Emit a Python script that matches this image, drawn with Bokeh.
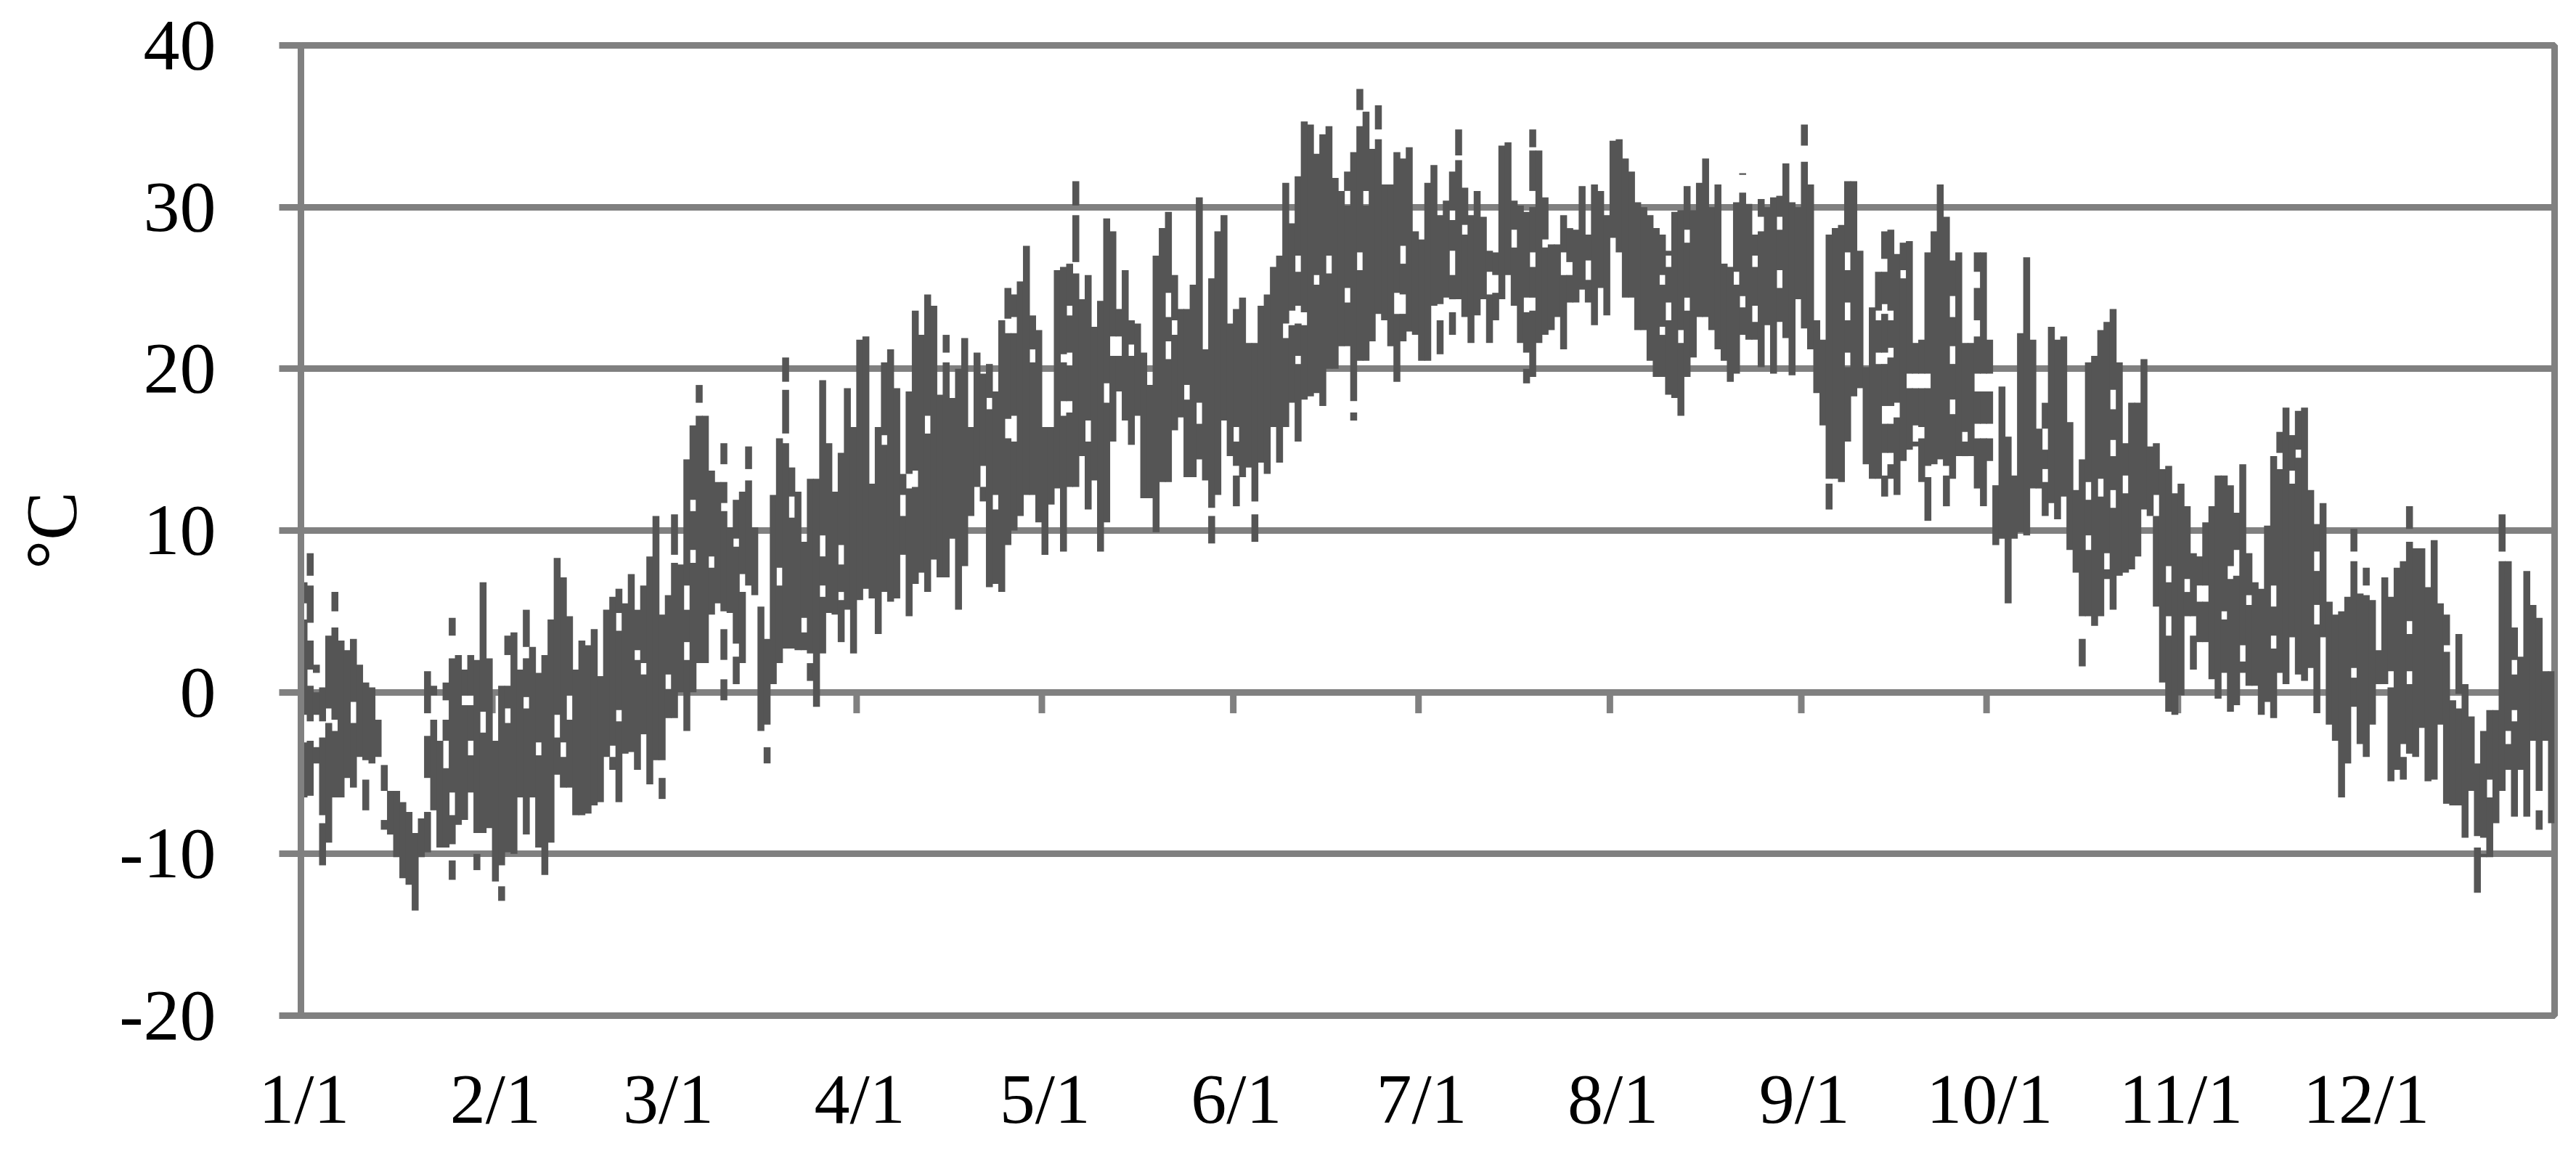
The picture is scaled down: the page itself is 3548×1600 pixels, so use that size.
from bokeh.plotting import figure
from bokeh.models import ColumnDataSource, FixedTicker, Range1d
from bokeh.embed import file_html
from bokeh.resources import INLINE

# Daily highest reading, deg C
hi_jan = [6.8,8.6,1.7,0.3,3.5,6.2,3.2,2.6,3.3,1.7,0.6,0.3,-1.7,-4.5,-6.1,-6.1,-6.8,-7.4,-8.7,-7.8,1.3,0.4,-3.0,0.6,4.6,2.3,1.4,2.3,2.0,6.8,2.1]
hi_feb = [-3.0,0.4,3.5,3.7,1.4,5.1,2.8,1.2,2.3,4.5,8.3,7.1,4.7,1.4,3.2,2.9,3.9,1.0,5.1,5.9,6.4,5.5,7.3,5.1,6.6,8.4,10.9,4.8]
hi_mar = [6.0,11.0,7.9,14.4,16.5,19.0,17.1,13.7,13.0,15.4,10.2,11.9,12.4,15.2,10.2,5.3,3.3,12.2,15.7,20.7,13.9,12.4,9.3,13.2,13.2,19.3,15.4,12.4,14.8,18.8,16.4]
hi_apr = [21.8,22.0,12.9,16.4,20.4,21.2,18.8,13.5,18.6,23.6,22.1,24.6,23.9,18.4,22.1,18.2,20.0,21.9,16.4,21.0,19.7,20.3,18.6,23.0,25.0,24.6,25.4,27.6,23.3,22.4]
hi_may = [16.4,16.4,26.1,26.3,26.5,31.6,24.3,25.8,22.6,24.2,29.3,28.5,23.7,26.1,23.0,22.8,21.0,19.0,27.0,28.7,29.7,25.8,23.7,23.7,25.2,30.6,21.2,25.6,28.5,29.5,22.8]
hi_jun = [23.7,24.4,21.6,21.6,23.9,24.6,26.3,27.0,31.5,29.0,31.9,35.3,35.1,33.3,34.5,35.0,31.8,31.0,32.2,33.4,37.3,35.9,33.6,36.3,31.4,31.4,33.4,33.0,33.7,28.5]
hi_jul = [28.0,31.5,32.6,29.5,30.4,32.2,34.8,31.2,29.5,31.0,29.4,27.3,27.2,33.8,34.0,30.4,30.1,29.7,34.8,33.5,30.6,27.7,27.7,29.5,28.7,28.6,31.3,28.3,31.4,31.0,29.5]
hi_aug = [34.1,34.2,33.0,32.2,30.3,30.0,29.5,28.7,28.3,27.3,29.7,29.8,31.3,29.8,31.5,33.0,30.0,31.4,26.5,26.3,30.3,32.1,30.2,28.3,30.5,30.0,30.6,30.7,32.7,30.3,30.0]
hi_sep = [35.1,31.4,23.0,21.8,28.3,28.7,28.9,31.6,31.6,27.3,20.1,23.8,26.0,28.5,28.6,27.1,27.8,27.9,21.6,21.8,27.2,28.5,31.4,29.4,26.7,27.2,21.6,21.6,27.2,27.2]
hi_oct = [21.8,12.8,18.9,15.8,13.4,22.2,26.9,21.8,16.3,17.9,22.6,21.8,22.0,16.7,12.5,14.4,20.4,20.8,22.4,22.9,23.7,20.4,15.4,17.9,17.9,20.6,15.2,15.4,13.8,14.0,12.3]
hi_nov = [12.9,11.5,8.6,8.4,10.5,11.5,13.4,13.4,12.8,11.1,14.1,8.6,6.8,6.4,10.3,14.6,16.1,17.6,15.9,17.4,17.6,12.5,10.4,11.7,5.6,4.8,5.0,5.9,10.1,6.1]
hi_dec = [7.7,5.7,2.6,7.1,5.9,7.7,8.1,11.5,8.9,8.9,6.5,9.4,5.5,4.8,-0.5,3.6,0.5,-1.5,-4.4,-2.4,-1.1,-1.1,11.0,8.1,4.0,2.2,7.5,5.4,4.6,1.3,1.3]

# Daily lowest reading, deg C
lo_jan = [-6.5,-6.4,-4.4,-10.7,-9.3,-6.5,-6.5,-5.3,-5.9,-4.0,-7.3,-4.4,-4.0,-8.5,-8.8,-10.2,-11.5,-11.9,-13.5,-10.2,-9.9,-7.3,-9.6,-9.6,-11.6,-8.2,-7.9,-6.2,-11.0,-8.7,-8.4]
lo_feb = [-11.7,-12.9,-9.9,-10.0,-6.5,-8.8,-6.5,-9.6,-11.3,-9.3,-5.1,-5.9,-5.9,-7.6,-7.6,-7.5,-7.0,-6.8,-4.0,-4.8,-6.8,-3.8,-3.7,-4.8,-2.6,-5.7,-4.2,-6.6]
lo_mar = [-1.6,-1.6,0.0,-2.4,0.0,1.8,1.8,4.8,5.5,-0.5,4.9,0.5,1.8,6.6,6.0,-2.4,-4.4,0.5,1.8,2.7,2.7,2.6,2.6,0.7,-0.9,2.4,4.9,4.8,3.1,5.1,2.4]
lo_apr = [5.7,6.4,5.8,3.6,6.2,5.6,5.8,8.5,4.7,6.7,7.4,6.2,8.2,7.1,7.1,9.5,5.1,7.8,10.9,12.7,11.8,6.5,6.7,6.2,9.1,10.0,10.9,12.2,12.2,10.5]
lo_may = [8.5,11.6,12.6,8.7,12.7,12.7,14.6,11.3,13.1,8.7,10.5,15.5,18.6,16.8,15.3,17.1,12.0,12.0,9.9,13.0,13.0,16.2,17.0,13.3,13.3,14.4,13.1,9.2,12.2,16.8,14.6]
lo_jun = [11.5,13.3,13.9,9.3,14.2,13.5,16.4,14.2,16.4,17.9,15.5,18.1,18.3,18.5,17.7,20.0,20.0,21.4,21.4,16.8,20.5,20.5,21.7,23.4,23.0,21.4,19.2,21.7,22.3,22.1]
lo_jul = [20.5,20.5,23.9,20.9,24.4,22.1,24.3,23.2,21.6,23.3,24.3,21.6,23.0,24.3,25.8,23.9,21.6,19.1,19.5,21.6,22.1,22.4,23.2,21.2,24.1,24.1,24.9,24.1,22.7,25.0,23.3]
lo_aug = [28.1,27.2,24.4,24.4,22.4,22.4,20.5,19.5,19.5,18.4,18.2,17.1,19.5,20.7,23.2,23.2,22.4,21.2,20.5,19.2,19.7,22.1,21.8,21.8,20.1,22.7,19.7,22.9,21.9,19.6,24.3]
lo_sep = [22.5,21.2,18.5,16.5,11.3,13.2,13.0,15.5,18.3,18.8,14.1,13.2,13.2,12.1,13.2,12.2,14.3,15.0,15.2,13.0,10.6,14.1,14.4,11.5,13.2,14.6,14.6,14.6,12.6,11.5]
lo_oct = [14.3,9.1,9.5,5.5,9.5,9.9,9.7,12.6,12.6,10.9,11.7,10.7,12.1,8.8,7.4,1.6,4.7,4.1,4.7,7.0,5.1,7.2,7.4,7.6,8.4,11.3,10.9,5.3,0.6,-1.2,-1.4]
lo_nov = [-0.2,4.7,1.4,3.1,3.1,0.8,-0.4,1.2,-1.2,-0.8,1.2,0.4,0.4,-1.4,-0.6,-1.6,1.2,0.5,3.4,1.1,0.7,1.5,-1.3,3.4,-2.0,-3.0,-6.5,-4.4,-0.9,-3.2]
lo_dec = [-4.0,-2.0,0.5,0.5,-5.5,-4.8,-5.4,-3.8,-4.0,-2.2,-5.5,-5.4,-2.0,-6.9,-7.0,-7.0,-9.0,-6.1,-12.4,-10.2,-10.2,-8.1,-6.1,-4.8,-7.7,-4.8,-7.7,-3.0,-8.5,-3.0,-8.1]

# White holes inside a day's range: day index, upper and lower value
gap_day = [0,0,1,1,1,1,2,2,3,3,4,5,5,8,10,13,20,20,21,22,23,23,24,24,24,26,27,27,28,29,32,33,33,36,36,38,41,42,43,
           50,51,51,54,55,58,59,60,62,62,63,63,64,66,68,68,68,68,70,70,71,72,75,77,78,78,79,81,82,84,84,87,87,
           94,99,101,104,105,110,111,112,115,115,118,124,124,124,125,125,127,130,131,134,
           140,140,141,143,145,147,149,151,151,154,159,161,161,161,166,169,170,171,171,172,174,178,
           184,186,186,187,188,192,196,198,199,199,199,201,205,208,220,220,221,221,223,224,224,
           232,233,233,235,235,236,239,239,239,243,247,250,250,250,256,257,257,257,259,263,266,267,267,267,269,
           271,271,282,282,288,289,289,291,292,293,293,293,295,300,302,302,305,306,312,313,314,319,319,320,
           322,323,326,326,332,332,334,338,340,341,341,341,347,349,352,353,354,356,357,358,358,362,
           255,256,255,256,257,256,257,258,256,257,260,261,262,263,261,262,271,272,273,271,272,273,
           114,114,98,97,132,123,123,164,160,162,169,177,178,307,308,311,315,198,199,204,193,192,186]
gap_hi = [5.5,-1.4,7.2,4.3,1.4,-1.8,1.2,-1.4,-1.8,-7.6,-1.0,5.0,-1.7,-0.6,-4.2,-6.1,-1.3,-5.3,-0.2,-0.3,-0.5,-3.0,3.5,-6.2,-9.4,-0.2,-0.2,-3.0,-8.7,-1.2,-10.7,-1.0,2.3,2.8,-0.3,-3.1,-1.4,-3.1,-0.2,
          -3.3,4.9,-1.1,2.6,1.8,-4.2,1.1,8.5,6.6,3.1,11.9,8.8,17.9,8.4,14.1,11.7,5.0,2.0,9.5,3.0,7.3,13.8,-2.0,7.7,19.2,16.0,12.1,4.6,2.4,9.7,6.6,9.1,6.2,
          15.9,13.7,17.1,21.0,19.7,14.0,18.2,12.2,23.2,17.1,21.2,23.9,21.0,18.0,30.1,26.6,16.8,19.1,22.0,21.5,
          24.7,21.7,23.0,19.0,17.9,11.4,17.3,16.4,14.0,11.8,22.8,27.0,23.9,20.8,27.0,31.0,18.0,36.0,27.2,31.0,34.8,27.6,
          24.0,29.8,24.3,33.2,28.9,26.0,28.6,21.0,33.7,31.0,27.2,28.0,26.6,26.7,25.8,22.6,27.0,24.1,22.4,28.6,24.4,
          26.0,32.0,24.5,27.0,23.9,29.4,29.4,26.1,22.0,33.8,13.2,27.2,24.1,21.0,26.8,23.6,17.6,14.8,26.1,14.0,14.0,24.5,21.4,18.1,16.1,
          26.0,23.0,16.3,13.8,4.7,13.0,9.7,13.2,8.6,18.7,15.6,12.5,13.4,12.2,7.8,4.7,7.0,4.7,7.8,8.8,2.9,6.6,3.5,14.8,
          13.7,15.0,8.7,5.4,8.7,1.5,6.6,1.3,-3.2,10.1,4.4,1.3,2.9,-0.1,-8.9,-9.0,-5.4,8.7,-2.4,2.0,-1.1,-6.1,
          23.6,24.0,21.0,21.0,21.3,17.7,17.7,17.9,14.8,14.8,19.7,19.7,19.7,19.7,16.5,16.4,19.7,19.7,19.7,16.6,16.6,16.6,
          23.1,16.9,13.5,12.2,22.0,20.9,18.0,25.8,23.6,23.5,25.0,24.7,24.6,6.6,6.6,5.0,6.0,24.4,24.4,27.2,25.8,25.8,27.3]
gap_lo = [4.5,-3.1,6.6,3.2,0.4,-3.0,0.0,-3.4,-2.8,-8.1,-1.9,4.0,-2.4,-1.9,-5.4,-7.9,-2.7,-7.4,-1.7,-2.0,-1.7,-4.7,2.1,-7.6,-10.4,-0.8,-0.8,-3.9,-10.0,-2.5,-12.0,-1.9,0.4,2.1,-1.0,-3.9,-2.8,-4.0,-1.7,
          -4.0,3.8,-1.8,2.0,1.1,-5.3,0.2,8.0,5.1,2.0,11.2,8.0,17.1,7.7,13.0,11.2,3.9,0.8,9.0,2.2,6.2,13.1,-3.4,6.6,18.7,15.4,10.8,3.7,1.8,8.4,5.9,7.9,5.7,
          15.3,12.7,16.0,20.4,18.0,12.7,17.5,11.3,22.2,15.5,20.4,23.3,20.2,17.3,29.5,25.9,15.5,17.9,20.8,20.8,
          23.2,20.6,22.1,18.1,16.6,10.9,16.2,15.5,13.4,11.0,21.9,26.0,22.8,20.3,25.9,30.1,17.3,35.0,26.1,30.1,34.2,26.5,
          23.0,29.2,23.5,32.9,28.3,24.6,27.5,20.0,33.5,30.0,26.3,27.5,25.8,25.5,25.2,22.1,26.3,23.0,21.6,27.8,23.6,
          25.2,30.9,23.8,26.3,22.9,28.5,28.6,25.0,21.2,32.8,12.9,26.1,23.0,20.1,26.0,23.0,16.6,14.1,25.6,13.3,13.4,23.2,20.3,17.2,15.5,
          25.0,22.0,15.0,13.0,3.3,11.9,8.8,12.1,7.6,17.5,14.6,11.4,12.3,10.9,6.8,3.5,6.2,3.5,7.0,7.2,1.9,5.3,2.7,13.8,
          12.9,14.5,7.5,4.2,8.1,0.9,6.0,0.3,-4.0,9.3,3.6,0.5,2.5,-1.0,-9.6,-10.0,-6.5,8.1,-3.2,1.1,-1.8,-7.3,
          23.0,23.4,20.3,20.3,20.7,16.6,16.6,17.0,13.4,14.0,18.8,18.8,18.8,18.8,15.5,15.7,18.6,18.6,18.6,15.7,15.7,15.7,
          22.2,15.7,12.6,10.9,20.8,20.4,17.1,25.2,22.7,22.7,24.1,23.4,23.4,5.6,5.6,4.5,5.4,23.5,23.6,25.8,24.7,24.7,25.8]

y_ticks = [-20, -10, 0, 10, 20, 30, 40]
month_start = [0, 31, 59, 90, 120, 151, 181, 212, 243, 273, 304, 334]
month_label = ["1/1", "2/1", "3/1", "4/1", "5/1", "6/1", "7/1", "8/1", "9/1", "10/1", "11/1", "12/1"]
y_name = "°C"

hi = hi_jan + hi_feb + hi_mar + hi_apr + hi_may + hi_jun + hi_jul + hi_aug + hi_sep + hi_oct + hi_nov + hi_dec
lo = lo_jan + lo_feb + lo_mar + lo_apr + lo_may + lo_jun + lo_jul + lo_aug + lo_sep + lo_oct + lo_nov + lo_dec

# Split every day's range at its holes
seg_x, seg_top, seg_bot = [], [], []
for d, (h, l) in enumerate(zip(hi, lo)):
    holes = sorted([(a, b) for g, a, b in zip(gap_day, gap_hi, gap_lo) if g == d], reverse=True)
    cur = h
    for a, b in holes:
        if a < cur and b > l:
            seg_x.append(d + 0.5); seg_top.append(cur); seg_bot.append(a)
            cur = b
    seg_x.append(d + 0.5); seg_top.append(cur); seg_bot.append(l)

GREY = "#808080"
DARK = "#555555"
FONT = "Liberation Serif"

p = figure(frame_width=3104, frame_height=1336, output_backend="svg", toolbar_location=None,
           x_range=Range1d(0, 365), y_range=Range1d(-20, 40),
           min_border_left=414, min_border_top=62, min_border_right=28, min_border_bottom=198,
           background_fill_color="white", border_fill_color="white",
           outline_line_color=GREY, outline_line_width=9)

p.xgrid.visible = False
p.ygrid.ticker = FixedTicker(ticks=y_ticks)
p.ygrid.grid_line_color = GREY
p.ygrid.grid_line_width = 9

# month ticks hanging under the zero line
p.vbar(x=month_start[1:], top=0, bottom=-1.3, width=1.06, color=GREY, line_width=0, level="underlay")

p.vbar(x="x", top="top", bottom="bot", width=1.12, color=DARK, line_width=0,
       source=ColumnDataSource(dict(x=seg_x, top=seg_top, bot=seg_bot)))

ya = p.yaxis[0]
ya.ticker = FixedTicker(ticks=y_ticks)
ya.major_label_overrides = {t: str(t) for t in y_ticks}
ya.axis_line_color = GREY
ya.axis_line_width = 9
ya.major_tick_line_color = GREY
ya.major_tick_line_width = 9
ya.major_tick_in = 0
ya.major_tick_out = 30
ya.minor_tick_line_color = None
ya.major_label_text_font = FONT
ya.major_label_text_font_size = "100px"
ya.major_label_text_color = "black"
ya.major_label_standoff = 87
ya.axis_label = y_name
ya.axis_label_text_font = FONT
ya.axis_label_text_font_size = "100px"
ya.axis_label_text_font_style = "normal"
ya.axis_label_text_color = "black"
ya.axis_label_standoff = 35

xa = p.xaxis[0]
xa.ticker = FixedTicker(ticks=[m + 0.5 for m in month_start])
xa.major_label_overrides = {m + 0.5: t for m, t in zip(month_start, month_label)}
xa.axis_line_color = None
xa.major_tick_line_color = None
xa.minor_tick_line_color = None
xa.major_tick_in = 0
xa.major_tick_out = 0
xa.major_label_standoff = 60
xa.major_label_text_font = FONT
xa.major_label_text_font_size = "98px"
xa.major_label_text_color = "black"

open("out.html", "w").write(file_html(p, INLINE))
